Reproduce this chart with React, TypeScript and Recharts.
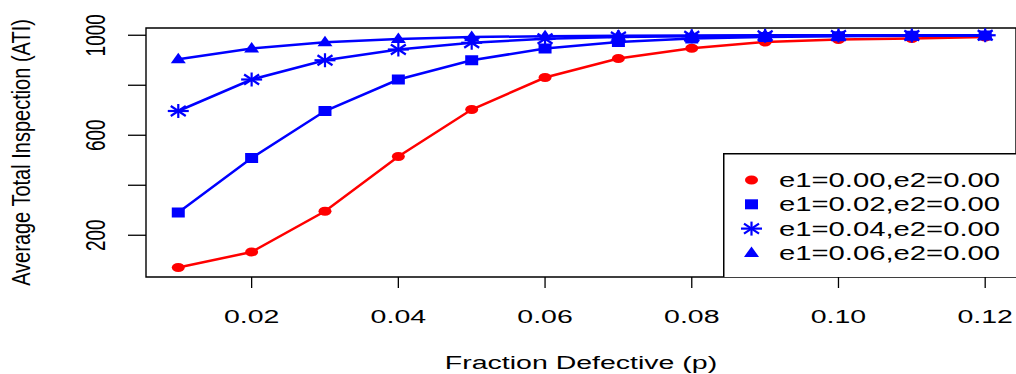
import React from "react";
import { Legend, Line, LineChart, ReferenceArea, XAxis, YAxis } from "recharts";

// ATI curves, one array per (e1, e2) setting.
const fractionDefective = [0.01, 0.02, 0.03, 0.04, 0.05, 0.06, 0.07, 0.08, 0.09, 0.1, 0.11, 0.12];
const atiE1_000 = [71, 133, 296, 515, 703, 831, 907, 948, 973, 983, 987, 993];
const atiE1_002 = [291, 509, 697, 823, 900, 947, 973, 987, 993, 996, 998, 999];
const atiE1_004 = [697, 823, 900, 943, 970, 986, 993, 996, 998, 999, 999, 1000];
const atiE1_006 = [904, 947, 972, 985, 993, 996, 998, 999, 1000, 1000, 1000, 1000];

const seriesNames = [
  "e1=0.00,e2=0.00",
  "e1=0.02,e2=0.00",
  "e1=0.04,e2=0.00",
  "e1=0.06,e2=0.00",
];

const xTicks = [0.02, 0.04, 0.06, 0.08, 0.1, 0.12];
const yTicks = [200, 400, 600, 800, 1000];
const yLabelled = [200, 600, 1000];

const X_DOMAIN: [number, number] = [0.0056, 0.1242];
const Y_DOMAIN: [number, number] = [33, 1029];

const FONT = '"Liberation Sans", Arial, sans-serif';
// the source raster is stretched sideways, so text is widened to match
const STRETCH = 1.5;
const RED = "#ff0000";
const BLUE = "#0000ff";

type Kind = "circle" | "square" | "star" | "triangle";
const kinds: Kind[] = ["circle", "square", "star", "triangle"];
const colors = [RED, BLUE, BLUE, BLUE];

function Marker({ kind, cx, cy, color }: { kind: Kind; cx: number; cy: number; color: string }) {
  if (kind === "circle") {
    return <ellipse cx={cx} cy={cy} rx={6.5} ry={4.5} fill={color} />;
  }
  if (kind === "square") {
    return <rect x={cx - 6.5} y={cy - 5} width={13} height={10} fill={color} />;
  }
  if (kind === "triangle") {
    return (
      <polygon
        points={`${cx},${cy - 6.5} ${cx + 7.5},${cy + 4} ${cx - 7.5},${cy + 4}`}
        fill={color}
      />
    );
  }
  return (
    <g stroke={color} strokeWidth={2.2}>
      <line x1={cx - 10.5} y1={cy} x2={cx + 10.5} y2={cy} />
      <line x1={cx} y1={cy - 7} x2={cx} y2={cy + 7} />
      <line x1={cx - 7.5} y1={cy - 5} x2={cx + 7.5} y2={cy + 5} />
      <line x1={cx - 7.5} y1={cy + 5} x2={cx + 7.5} y2={cy - 5} />
    </g>
  );
}

function dotFor(i: number) {
  return (p: any) => (
    <Marker key={`${kinds[i]}-${p.index}`} kind={kinds[i]} cx={p.cx} cy={p.cy} color={colors[i]} />
  );
}

function XTick(props: any) {
  const { x, y, payload } = props;
  return (
    <text
      transform={`translate(${x},${y + 33}) scale(${STRETCH},1)`}
      textAnchor="middle"
      fontSize={19}
      fill="#000"
      fontFamily={FONT}
    >
      {Number(payload.value).toFixed(2)}
    </text>
  );
}

function YTick(props: any) {
  const { x, y, payload } = props;
  if (!yLabelled.includes(payload.value)) return <g />;
  return (
    <text
      transform={`translate(${x - 21},${y}) rotate(-90) scale(1,${STRETCH})`}
      textAnchor="middle"
      fontSize={19}
      fill="#000"
      fontFamily={FONT}
    >
      {payload.value}
    </text>
  );
}

const xTitle = ({ viewBox }: any) => (
  <text
    transform={`translate(${viewBox.x + viewBox.width / 2},${viewBox.y + 92}) scale(${STRETCH},1)`}
    textAnchor="middle"
    fontSize={19}
    fill="#000"
    fontFamily={FONT}
  >
    Fraction Defective (p)
  </text>
);

const yTitle = ({ viewBox }: any) => (
  <text
    transform={`translate(${viewBox.x + 30},${viewBox.y + viewBox.height / 2}) rotate(-90) scale(1,1.3)`}
    textAnchor="middle"
    fontSize={20}
    fill="#000"
    fontFamily={FONT}
  >
    Average Total Inspection (ATI)
  </text>
);

function LegendBox({ payload }: any) {
  const items = payload ?? [];
  return (
    <svg width={293} height={124} style={{ display: "block" }}>
      <rect x={0.75} y={0.75} width={330} height={140} fill="#fff" stroke="#000" strokeWidth={1.5} />
      {items.map((entry: any, i: number) => {
        const cy = 27 + i * 24.3;
        return (
          <g key={entry.value}>
            <Marker kind={kinds[i]} cx={28.5} cy={cy} color={colors[i]} />
            <text
              transform={`translate(56,${cy + 7}) scale(${STRETCH},1)`}
              fontSize={19.5}
              fill="#000"
              fontFamily={FONT}
            >
              {entry.value}
            </text>
          </g>
        );
      })}
    </svg>
  );
}

export default function App() {
  const data = fractionDefective.map((p, i) => ({
    p,
    e0: atiE1_000[i],
    e2: atiE1_002[i],
    e4: atiE1_004[i],
    e6: atiE1_006[i],
  }));
  const keys = ["e0", "e2", "e4", "e6"];

  return (
    <div
      style={{
        position: "absolute",
        left: 0,
        top: 0,
        width: 1016,
        height: 374,
        overflow: "hidden",
        background: "#fff",
        fontFamily: FONT,
      }}
    >
      <LineChart width={1016} height={374} data={data} margin={{ top: 28, right: 0, bottom: 0, left: 0 }}>
        <XAxis
          dataKey="p"
          type="number"
          domain={X_DOMAIN}
          ticks={xTicks}
          allowDataOverflow
          height={97}
          axisLine={false}
          tickSize={11}
          tickLine={{ stroke: "#000", strokeWidth: 1.3 }}
          tick={<XTick />}
          label={xTitle}
        />
        <YAxis
          type="number"
          domain={Y_DOMAIN}
          ticks={yTicks}
          allowDataOverflow
          width={146}
          axisLine={false}
          tickSize={18}
          tickLine={{ stroke: "#000", strokeWidth: 1.3 }}
          tick={<YTick />}
          label={yTitle}
        />
        <ReferenceArea
          x1={X_DOMAIN[0]}
          x2={X_DOMAIN[1]}
          y1={Y_DOMAIN[0]}
          y2={Y_DOMAIN[1]}
          fill="none"
          fillOpacity={0}
          stroke="#000"
          strokeWidth={1.4}
          ifOverflow="visible"
        />
        {keys.map((k, i) => (
          <Line
            key={k}
            dataKey={k}
            name={seriesNames[i]}
            stroke={colors[i]}
            strokeWidth={2.5}
            dot={dotFor(i)}
            activeDot={false}
            isAnimationActive={false}
          />
        ))}
        <Legend
          layout="vertical"
          align="center"
          verticalAlign="middle"
          content={<LegendBox />}
          wrapperStyle={{ left: 723, top: 153, width: 293, height: 124 }}
        />
      </LineChart>
    </div>
  );
}
